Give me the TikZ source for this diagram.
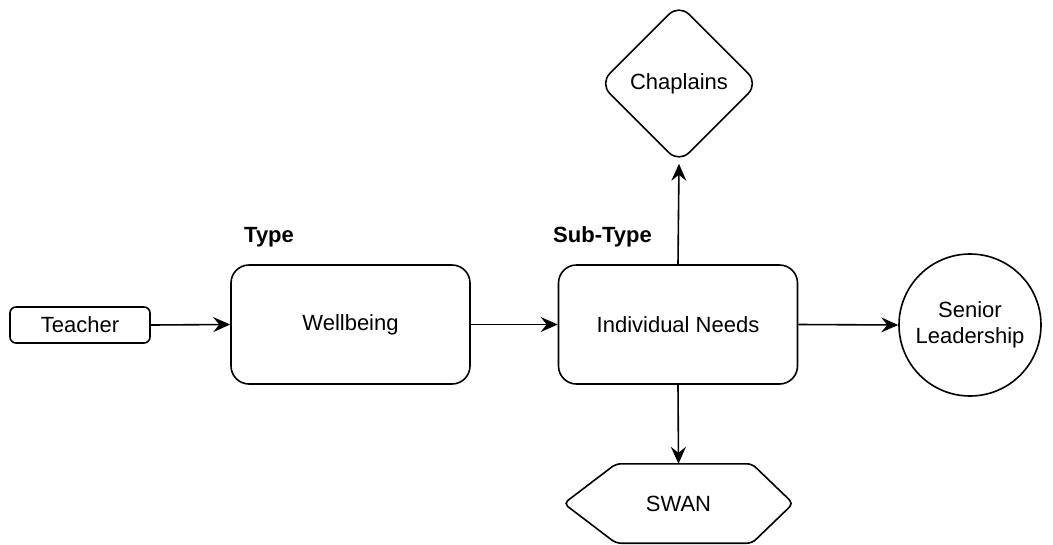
\documentclass[tikz,border=0pt]{standalone}
\usepackage{fontspec}
\setmainfont{Liberation Sans}
\usetikzlibrary{shapes.geometric,arrows.meta}
\begin{document}
\begin{tikzpicture}[x=1pt,y=-1pt,
  every node/.style={font=\fontsize{22}{27}\selectfont, text=black},
  bigbox/.style={draw, line width=1.6pt, rounded corners=18pt, minimum width=239pt, minimum height=119pt, inner sep=0pt},
  smallbox/.style={draw, line width=1.6pt, rounded corners=6pt, minimum width=140pt, minimum height=36pt, inner sep=0pt},
  lbl/.style={font=\fontsize{22}{27}\selectfont\bfseries, anchor=base west, inner sep=0pt},
  conn/.style={line width=1.6pt, -{Stealth[length=17pt,width=15pt,inset=6pt]}}
]
\useasboundingbox (0,0) rectangle (1053,544);
\node[smallbox] (teacher) at (80,325) {Teacher};
\node[bigbox] (well) at (350.5,324.5) {Wellbeing};
\node[bigbox] (ind) at (678,324.5) {Individual Needs};
\node[lbl] (type) at (244,242) {Type};
\node[lbl] (subtype) at (553,242) {Sub-Type};
\node[draw, diamond, line width=1.6pt, rounded corners=14pt, minimum width=159pt, minimum height=159pt, inner sep=0pt] (chap) at (679,83.5) {Chaplains};
\node[draw, circle, line width=1.6pt, minimum size=142pt, inner sep=0pt, align=center] (senior) at (970,325) {Senior\\[-1pt]Leadership};
\node[minimum width=229pt, minimum height=79pt, inner sep=0pt] (swan) at (678.5,503.5) {SWAN};
\draw[line width=1.6pt, rounded corners=5pt] ([xshift=-62.5pt]swan.north) -- ([xshift=73.5pt]swan.north) -- (swan.east) -- ([xshift=73.5pt]swan.south) -- ([xshift=-62.5pt]swan.south) -- (swan.west) -- cycle;
\draw[conn] (teacher.east) -- (well.west);
\draw[conn] (well.east) -- (ind.west);
\draw[conn] (ind.east) -- (senior.west);
\draw[conn] (ind.north) -- (chap.south);
\draw[conn] (ind.south) -- (swan.north);
\end{tikzpicture}
\end{document}
